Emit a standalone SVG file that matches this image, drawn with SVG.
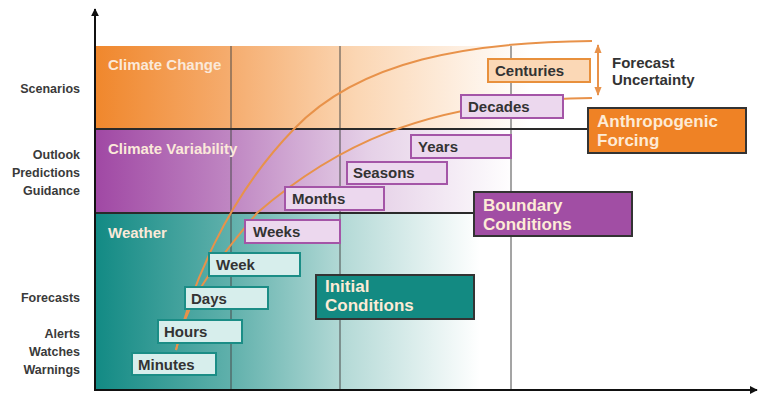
<svg xmlns="http://www.w3.org/2000/svg" width="762" height="395" viewBox="0 0 762 395">
<defs>
<linearGradient id="gOr" x1="95" y1="0" x2="530" y2="0" gradientUnits="userSpaceOnUse">
<stop offset="0" stop-color="#f0872c"/><stop offset="0.3" stop-color="#f5ab6c"/><stop offset="0.6" stop-color="#fbd6b3"/><stop offset="1" stop-color="#ffffff"/>
</linearGradient>
<linearGradient id="gPu" x1="95" y1="0" x2="515" y2="0" gradientUnits="userSpaceOnUse">
<stop offset="0" stop-color="#a048a4"/><stop offset="0.32" stop-color="#bf86c2"/><stop offset="0.65" stop-color="#e5d0e7"/><stop offset="1" stop-color="#ffffff"/>
</linearGradient>
<linearGradient id="gTe" x1="95" y1="0" x2="480" y2="0" gradientUnits="userSpaceOnUse">
<stop offset="0" stop-color="#128a84"/><stop offset="0.35" stop-color="#5fb0ab"/><stop offset="0.65" stop-color="#b5dad7"/><stop offset="1" stop-color="#ffffff"/>
</linearGradient>
<marker id="ah" viewBox="0 0 10 10" refX="9" refY="5" markerWidth="8" markerHeight="8" orient="auto-start-reverse" markerUnits="userSpaceOnUse">
<path d="M0,0 L10,5 L0,10 z" fill="#111"/>
</marker>
<marker id="ao" viewBox="0 0 10 10" refX="9" refY="5" markerWidth="9" markerHeight="9" orient="auto-start-reverse" markerUnits="userSpaceOnUse">
<path d="M0,1 L10,5 L0,9 z" fill="#e8924a"/>
</marker>
</defs>
<style>
text{font-family:"Liberation Sans",Arial,sans-serif;font-weight:bold}
.ax{font-size:12.5px;fill:#3a3a3a;text-anchor:end}
.band{font-size:15px;fill:#fbe9d9}
.lbl{font-size:15px;fill:#333}
.big{font-size:17px;fill:#fdebd6}
.vl{stroke:#4a4a4a;stroke-width:1}
.hl{stroke:#2a2a2a;stroke-width:2}
.curve{fill:none;stroke:#e8924a;stroke-width:2}
.bo{fill:#fbd8b6;stroke:#e8903c;stroke-width:2}
.bp{fill:#ecd8ee;stroke:#a455a7;stroke-width:2}
.bt{fill:#d7eeec;stroke:#1b8d86;stroke-width:2}
</style>
<g id="bands">
<rect x="95" y="46" width="500" height="83" fill="url(#gOr)"/>
<rect x="95" y="129" width="500" height="84" fill="url(#gPu)"/>
<rect x="95" y="213" width="500" height="177" fill="url(#gTe)"/>
</g>
<g id="grid">
<line class="vl" x1="231" y1="46" x2="231" y2="390"/>
<line class="vl" x1="340" y1="46" x2="340" y2="390"/>
<line class="vl" x1="511" y1="46" x2="511" y2="390"/>
<line class="hl" x1="95" y1="129" x2="588" y2="129"/>
<line class="hl" x1="95" y1="213" x2="474" y2="213"/>
</g>
<g id="connectors">
<path class="curve" d="M176,350 C190,290 225,200 294,129 C360,60 470,42 592,41"/>
<path class="curve" d="M176,350 C185,310 200,280 257,213 C330,150 420,100 592,98"/>
<line x1="598" y1="45" x2="598" y2="95" stroke="#e8924a" stroke-width="2" marker-start="url(#ao)" marker-end="url(#ao)"/>
</g>
<g id="axes">
<line x1="95" y1="391" x2="95" y2="9" stroke="#111" stroke-width="2" marker-end="url(#ah)"/>
<line x1="94" y1="390" x2="757" y2="390" stroke="#111" stroke-width="2" marker-end="url(#ah)"/>
</g>
<g id="axis-labels">
<text class="ax" x="80" y="93">Scenarios</text>
<text class="ax" x="80" y="159">Outlook</text>
<text class="ax" x="80" y="177">Predictions</text>
<text class="ax" x="80" y="195">Guidance</text>
<text class="ax" x="80" y="302">Forecasts</text>
<text class="ax" x="80" y="338">Alerts</text>
<text class="ax" x="80" y="356">Watches</text>
<text class="ax" x="80" y="374">Warnings</text>
</g>
<g id="band-labels">
<text class="band" x="108" y="70">Climate Change</text>
<text class="band" x="108" y="154">Climate Variability</text>
<text class="band" x="108" y="238">Weather</text>
</g>
<g id="centuries"><rect class="bo" x="488" y="59" width="102" height="23"/><text class="lbl" x="495" y="76">Centuries</text></g>
<g id="decades"><rect class="bp" x="461" y="95" width="102" height="23"/><text class="lbl" x="468" y="112">Decades</text></g>
<g id="years"><rect class="bp" x="411" y="135" width="100" height="23"/><text class="lbl" x="418" y="152">Years</text></g>
<g id="seasons"><rect class="bp" x="347" y="162" width="100" height="22"/><text class="lbl" x="353" y="178">Seasons</text></g>
<g id="months"><rect class="bp" x="285" y="187" width="99" height="23"/><text class="lbl" x="292" y="204">Months</text></g>
<g id="weeks"><rect class="bp" x="245" y="220" width="95" height="23"/><text class="lbl" x="253" y="237">Weeks</text></g>
<g id="week"><rect class="bt" x="209" y="253" width="91" height="23"/><text class="lbl" x="216" y="270">Week</text></g>
<g id="days"><rect class="bt" x="185" y="287" width="83" height="22"/><text class="lbl" x="191" y="304">Days</text></g>
<g id="hours"><rect class="bt" x="158" y="320" width="84" height="23"/><text class="lbl" x="164" y="337">Hours</text></g>
<g id="minutes"><rect class="bt" x="132" y="353" width="84" height="22"/><text class="lbl" x="138" y="370">Minutes</text></g>
<g id="forecast-uncertainty">
<text class="lbl" x="612" y="68">Forecast</text>
<text class="lbl" x="612" y="85">Uncertainty</text>
</g>
<g id="anthropogenic"><rect x="588" y="108" width="158" height="45" fill="#ef8225" stroke="#333" stroke-width="2"/><text class="big" x="597" y="127">Anthropogenic</text><text class="big" x="597" y="146">Forcing</text></g>
<g id="boundary"><rect x="474" y="192" width="158" height="44" fill="#a14ea4" stroke="#333" stroke-width="2"/><text class="big" x="483" y="211">Boundary</text><text class="big" x="483" y="230">Conditions</text></g>
<g id="initial"><rect x="316" y="275" width="158" height="44" fill="#138a82" stroke="#333" stroke-width="2"/><text class="big" x="325" y="292">Initial</text><text class="big" x="325" y="311">Conditions</text></g>
</svg>
